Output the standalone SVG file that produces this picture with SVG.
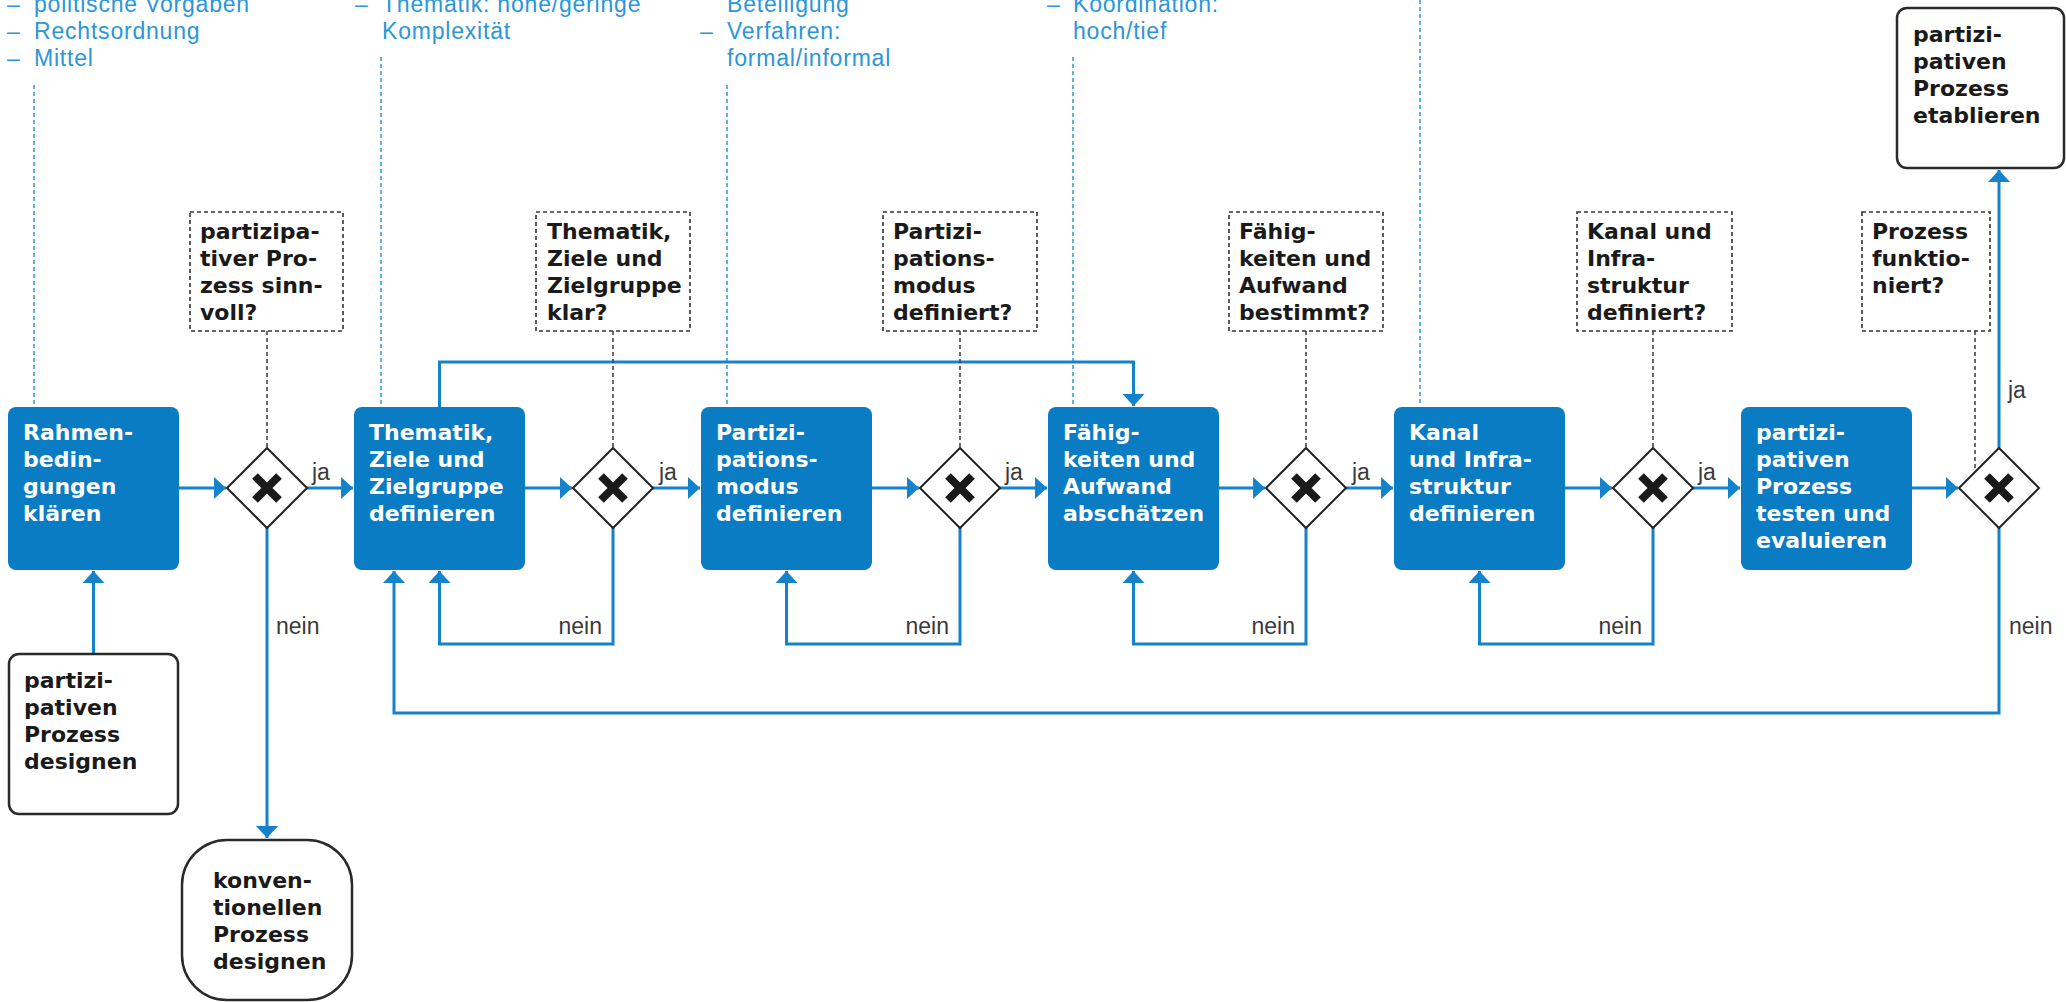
<svg xmlns="http://www.w3.org/2000/svg" width="2066" height="1002" viewBox="0 0 2066 1002">
<style>
.bg{fill:#ffffff}
.task{fill:#0a7cc3}
.tt{font-family:"DejaVu Sans",sans-serif;font-weight:bold;font-size:22px;fill:#ffffff}
.bt{font-family:"DejaVu Sans",sans-serif;font-weight:bold;font-size:22px;fill:#1a1a1a}
.ann{fill:#ffffff;stroke:#333333;stroke-width:1.6;stroke-dasharray:4 3}
.term{fill:#ffffff;stroke:#2a2a2a;stroke-width:2.5}
.gw{fill:#ffffff;stroke:#222222;stroke-width:2}
.gx{fill:none;stroke:#1a1a1a;stroke-width:8}
.flow{fill:none;stroke:#1583cc;stroke-width:3}
.assoc{fill:none;stroke:#444444;stroke-width:1.6;stroke-dasharray:4 3}
.note{fill:none;stroke:#3d9ddc;stroke-width:1.6;stroke-dasharray:4 3}
.lbl{font-family:"Liberation Sans",Arial,sans-serif;font-size:23px;fill:#3a3a3a}
.top{font-family:"Liberation Sans",Arial,sans-serif;font-size:23px;letter-spacing:0.8px;fill:#2b96d8}
</style>
<defs>
<marker id="arr" markerUnits="userSpaceOnUse" markerWidth="13" markerHeight="22" refX="12" refY="11" orient="auto">
<path d="M0,0 L12,11 L0,22 Z" fill="#1583cc"/>
</marker>
</defs>
<rect class="bg" x="0" y="0" width="2066" height="1002"/>

<g id="top-notes">
<text class="top" x="7" y="12">–</text><text class="top" x="34" y="12">politische Vorgaben</text>
<text class="top" x="7" y="39">–</text><text class="top" x="34" y="39">Rechtsordnung</text>
<text class="top" x="7" y="66">–</text><text class="top" x="34" y="66">Mittel</text>
<text class="top" x="355" y="12">–</text><text class="top" x="382" y="12">Thematik: hohe/geringe</text>
<text class="top" x="382" y="39">Komplexität</text>
<text class="top" x="727" y="12">Beteiligung</text>
<text class="top" x="700" y="39">–</text><text class="top" x="727" y="39">Verfahren:</text>
<text class="top" x="727" y="66">formal/informal</text>
<text class="top" x="1047" y="12">–</text><text class="top" x="1073" y="12">Koordination:</text>
<text class="top" x="1073" y="39">hoch/tief</text>
<path class="note" d="M34,85 V406 M381,57 V406 M727,85 V406 M1073,57 V406 M1420,0 V406"/>
</g>

<g id="connectors">
<path class="flow" d="M179,488 H226" marker-end="url(#arr)"/>
<path class="flow" d="M307,488 H353" marker-end="url(#arr)"/>
<path class="flow" d="M525,488 H572" marker-end="url(#arr)"/>
<path class="flow" d="M653,488 H700" marker-end="url(#arr)"/>
<path class="flow" d="M872,488 H919" marker-end="url(#arr)"/>
<path class="flow" d="M1000,488 H1047" marker-end="url(#arr)"/>
<path class="flow" d="M1219,488 H1265" marker-end="url(#arr)"/>
<path class="flow" d="M1346,488 H1393" marker-end="url(#arr)"/>
<path class="flow" d="M1565,488 H1612" marker-end="url(#arr)"/>
<path class="flow" d="M1693,488 H1740" marker-end="url(#arr)"/>
<path class="flow" d="M1912,488 H1958" marker-end="url(#arr)"/>
<path class="flow" d="M1999,448 V170" marker-end="url(#arr)"/>
<path class="flow" d="M93.5,654 V571" marker-end="url(#arr)"/>
<path class="flow" d="M267,528 V838" marker-end="url(#arr)"/>
<path class="flow" d="M613,528 V644 H439.5 V571" marker-end="url(#arr)"/>
<path class="flow" d="M960,528 V644 H786.5 V571" marker-end="url(#arr)"/>
<path class="flow" d="M1306,528 V644 H1133.5 V571" marker-end="url(#arr)"/>
<path class="flow" d="M1653,528 V644 H1479.5 V571" marker-end="url(#arr)"/>
<path class="flow" d="M1999,528 V713 H394 V571" marker-end="url(#arr)"/>
<path class="flow" d="M439.5,407 V362 H1133.5 V406" marker-end="url(#arr)"/>
<path class="assoc" d="M267,331 V448 M613,331 V448 M960,331 V448 M1306,331 V448 M1653,331 V448 M1975,331 V471"/>
<text class="lbl" x="312" y="480">ja</text>
<text class="lbl" x="659" y="480">ja</text>
<text class="lbl" x="1005" y="480">ja</text>
<text class="lbl" x="1352" y="480">ja</text>
<text class="lbl" x="1698" y="480">ja</text>
<text class="lbl" x="2008" y="398">ja</text>
<text class="lbl" x="276" y="634">nein</text>
<text class="lbl" x="602" y="634" text-anchor="end">nein</text>
<text class="lbl" x="949" y="634" text-anchor="end">nein</text>
<text class="lbl" x="1295" y="634" text-anchor="end">nein</text>
<text class="lbl" x="1642" y="634" text-anchor="end">nein</text>
<text class="lbl" x="2009" y="634">nein</text>
</g>

<g id="task1"><rect class="task" x="8" y="407" width="171" height="163" rx="8"/>
<text class="tt" x="23" y="440">Rahmen-</text><text class="tt" x="23" y="467">bedin-</text><text class="tt" x="23" y="494">gungen</text><text class="tt" x="23" y="521">klären</text></g>
<g id="task2"><rect class="task" x="354" y="407" width="171" height="163" rx="8"/>
<text class="tt" x="369" y="440">Thematik,</text><text class="tt" x="369" y="467">Ziele und</text><text class="tt" x="369" y="494">Zielgruppe</text><text class="tt" x="369" y="521">definieren</text></g>
<g id="task3"><rect class="task" x="701" y="407" width="171" height="163" rx="8"/>
<text class="tt" x="716" y="440">Partizi-</text><text class="tt" x="716" y="467">pations-</text><text class="tt" x="716" y="494">modus</text><text class="tt" x="716" y="521">definieren</text></g>
<g id="task4"><rect class="task" x="1048" y="407" width="171" height="163" rx="8"/>
<text class="tt" x="1063" y="440">Fähig-</text><text class="tt" x="1063" y="467">keiten und</text><text class="tt" x="1063" y="494">Aufwand</text><text class="tt" x="1063" y="521">abschätzen</text></g>
<g id="task5"><rect class="task" x="1394" y="407" width="171" height="163" rx="8"/>
<text class="tt" x="1409" y="440">Kanal</text><text class="tt" x="1409" y="467">und Infra-</text><text class="tt" x="1409" y="494">struktur</text><text class="tt" x="1409" y="521">definieren</text></g>
<g id="task6"><rect class="task" x="1741" y="407" width="171" height="163" rx="8"/>
<text class="tt" x="1756" y="440">partizi-</text><text class="tt" x="1756" y="467">pativen</text><text class="tt" x="1756" y="494">Prozess</text><text class="tt" x="1756" y="521">testen und</text><text class="tt" x="1756" y="548">evaluieren</text></g>

<g id="gw1"><path class="gw" d="M267,448 L307,488 L267,528 L227,488 Z"/><path class="gx" d="M255,476 L279,500 M279,476 L255,500"/></g>
<g id="gw2"><path class="gw" d="M613,448 L653,488 L613,528 L573,488 Z"/><path class="gx" d="M601,476 L625,500 M625,476 L601,500"/></g>
<g id="gw3"><path class="gw" d="M960,448 L1000,488 L960,528 L920,488 Z"/><path class="gx" d="M948,476 L972,500 M972,476 L948,500"/></g>
<g id="gw4"><path class="gw" d="M1306,448 L1346,488 L1306,528 L1266,488 Z"/><path class="gx" d="M1294,476 L1318,500 M1318,476 L1294,500"/></g>
<g id="gw5"><path class="gw" d="M1653,448 L1693,488 L1653,528 L1613,488 Z"/><path class="gx" d="M1641,476 L1665,500 M1665,476 L1641,500"/></g>
<g id="gw6"><path class="gw" d="M1999,448 L2039,488 L1999,528 L1959,488 Z"/><path class="gx" d="M1987,476 L2011,500 M2011,476 L1987,500"/></g>

<g id="ann1"><rect class="ann" x="190" y="212" width="153" height="119"/>
<text class="bt" x="200" y="239">partizipa-</text><text class="bt" x="200" y="266">tiver Pro-</text><text class="bt" x="200" y="293">zess sinn-</text><text class="bt" x="200" y="320">voll?</text></g>
<g id="ann2"><rect class="ann" x="536" y="212" width="154" height="119"/>
<text class="bt" x="547" y="239">Thematik,</text><text class="bt" x="547" y="266">Ziele und</text><text class="bt" x="547" y="293">Zielgruppe</text><text class="bt" x="547" y="320">klar?</text></g>
<g id="ann3"><rect class="ann" x="883" y="212" width="154" height="119"/>
<text class="bt" x="893" y="239">Partizi-</text><text class="bt" x="893" y="266">pations-</text><text class="bt" x="893" y="293">modus</text><text class="bt" x="893" y="320">definiert?</text></g>
<g id="ann4"><rect class="ann" x="1229" y="212" width="154" height="119"/>
<text class="bt" x="1239" y="239">Fähig-</text><text class="bt" x="1239" y="266">keiten und</text><text class="bt" x="1239" y="293">Aufwand</text><text class="bt" x="1239" y="320">bestimmt?</text></g>
<g id="ann5"><rect class="ann" x="1577" y="212" width="155" height="119"/>
<text class="bt" x="1587" y="239">Kanal und</text><text class="bt" x="1587" y="266">Infra-</text><text class="bt" x="1587" y="293">struktur</text><text class="bt" x="1587" y="320">definiert?</text></g>
<g id="ann6"><rect class="ann" x="1862" y="212" width="128" height="119"/>
<text class="bt" x="1872" y="239">Prozess</text><text class="bt" x="1872" y="266">funktio-</text><text class="bt" x="1872" y="293">niert?</text></g>

<g id="start"><rect class="term" x="9" y="654" width="169" height="160" rx="10"/>
<text class="bt" x="24" y="688">partizi-</text><text class="bt" x="24" y="715">pativen</text><text class="bt" x="24" y="742">Prozess</text><text class="bt" x="24" y="769">designen</text></g>
<g id="end-conventional"><rect class="term" x="182" y="840" width="170" height="160" rx="45"/>
<text class="bt" x="213" y="888">konven-</text><text class="bt" x="213" y="915">tionellen</text><text class="bt" x="213" y="942">Prozess</text><text class="bt" x="213" y="969">designen</text></g>
<g id="end-establish"><rect class="term" x="1897" y="8" width="167" height="160" rx="10"/>
<text class="bt" x="1913" y="42">partizi-</text><text class="bt" x="1913" y="69">pativen</text><text class="bt" x="1913" y="96">Prozess</text><text class="bt" x="1913" y="123">etablieren</text></g>
</svg>
